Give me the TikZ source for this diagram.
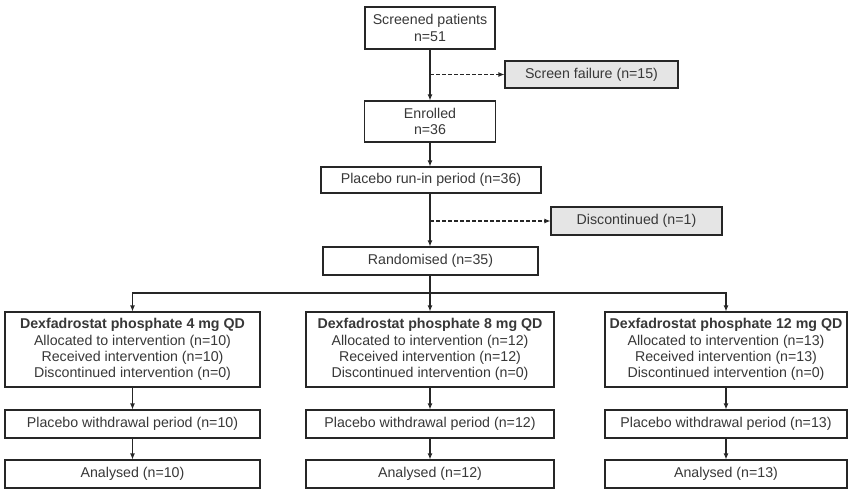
\documentclass[tikz,border=0pt]{standalone}
\usepackage{fontspec}
\setmainfont{Liberation Sans}
\usetikzlibrary{arrows.meta}
\begin{document}
\begin{tikzpicture}[x=1pt, y=-1pt,
	box/.style={draw=black!85, line width=1.1pt, fill=white, text=black!78, inner sep=0pt, align=center,
		font=\fontsize{14.2}{16.3}\selectfont},
	sidebox/.style={box, fill=black!10},
	flow/.style={draw=black!85, line width=1.1pt, -{Latex[length=6pt,width=5pt]}},
	skip/.style={flow, dash pattern=on 3.5pt off 2.5pt}]
	\useasboundingbox (0,0) rectangle (859,492);
	\node[box, minimum width=130, minimum height=42] (screen) at (430, 28) {Screened patients\\n=51};
	\node[sidebox, minimum width=173, minimum height=27] (fail) at (591.5, 74.5) {Screen failure (n=15)};
	\node[box, minimum width=131, minimum height=41] (enrol) at (430, 121.5) {Enrolled\\n=36};
	\node[box, minimum width=220, minimum height=26] (runin) at (431, 180) {Placebo run-in period (n=36)};
	\node[sidebox, minimum width=171, minimum height=28] (disc) at (636.5, 221) {Discontinued (n=1)};
	\node[box, minimum width=215, minimum height=28] (rand) at (430.5, 261) {Randomised (n=35)};
	\coordinate (split) at (430, 293);

	\node[box, minimum width=255, minimum height=75] (dose4) at (132.5, 349.5) {\textbf{Dexfadrostat phosphate 4 mg QD}\\Allocated to intervention (n=10)\\Received intervention (n=10)\\Discontinued intervention (n=0)};
	\node[box, minimum width=248, minimum height=75] (dose8) at (430, 349.5) {\textbf{Dexfadrostat phosphate 8 mg QD}\\Allocated to intervention (n=12)\\Received intervention (n=12)\\Discontinued intervention (n=0)};
	\node[box, minimum width=242, minimum height=75] (dose12) at (726, 349.5) {\textbf{Dexfadrostat phosphate 12 mg QD}\\Allocated to intervention (n=13)\\Received intervention (n=13)\\Discontinued intervention (n=0)};

	\node[box, minimum width=255, minimum height=28] (wd4) at (132.5, 424) {Placebo withdrawal period (n=10)};
	\node[box, minimum width=248, minimum height=28] (wd8) at (430, 424) {Placebo withdrawal period (n=12)};
	\node[box, minimum width=242, minimum height=28] (wd12) at (726, 424) {Placebo withdrawal period (n=13)};

	\node[box, minimum width=255, minimum height=28] (an4) at (132.5, 474) {Analysed (n=10)};
	\node[box, minimum width=248, minimum height=28] (an8) at (430, 474) {Analysed (n=12)};
	\node[box, minimum width=242, minimum height=28] (an12) at (726, 474) {Analysed (n=13)};

	\draw[flow] (screen) -- (enrol);
	\draw[skip] (screen.south |- fail.west) -- (fail.west);
	\draw[flow] (enrol) -- (enrol |- runin.north);
	\draw[flow] (enrol |- runin.south) -- (enrol |- rand.north);
	\draw[skip] (enrol |- disc.west) -- (disc.west);
	\draw[draw=black!85, line width=1.1pt] (split |- rand.south) -- (split);
	\draw[flow] (split) -- (dose8);
	\draw[flow] (split) -| (dose4);
	\draw[flow] (split) -| (dose12);

	\draw[flow] (dose4) -- (wd4);
	\draw[flow] (dose8) -- (wd8);
	\draw[flow] (dose12) -- (wd12);
	\draw[flow] (wd4) -- (an4);
	\draw[flow] (wd8) -- (an8);
	\draw[flow] (wd12) -- (an12);
\end{tikzpicture}
\end{document}
